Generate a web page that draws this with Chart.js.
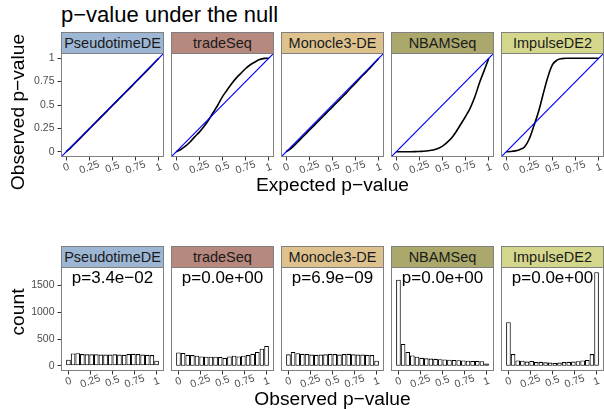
<!DOCTYPE html>
<html>
<head>
<meta charset="utf-8">
<script src="https://cdn.jsdelivr.net/npm/chart.js@4.4.1/dist/chart.umd.min.js"></script>
<style>
  body { margin: 0; background: #fff; font-family: "Liberation Sans", Arial, sans-serif; }
  #wrap { position: relative; width: 604px; height: 409px; overflow: hidden; background: #fff; }
  canvas { position: absolute; }
  .txt { position: absolute; white-space: nowrap; line-height: 1; color: #000; }
  .strip { position: absolute; box-sizing: border-box; border: 1px solid #808080; text-align: center;
           font-size: 14.5px; line-height: 20px; color: #1a1a1a; white-space: nowrap; overflow: hidden; }
</style>
</head>
<body>
<div id="wrap"></div>
<script>
// facets
const METHODS = ['PseudotimeDE', 'tradeSeq', 'Monocle3-DE', 'NBAMSeq', 'ImpulseDE2'];
const STRIP_COLORS = ['#9db6d4', '#b7887e', '#dec28e', '#aaa86a', '#d4d68c'];

// top row: QQ curves (expected vs observed p-value)
const QQ_X = [0, 0.05, 0.1, 0.15, 0.2, 0.25, 0.3, 0.35, 0.4, 0.45, 0.5, 0.55, 0.6, 0.65, 0.7, 0.75, 0.8, 0.85, 0.9, 0.95, 1];
const QQ_PSEUDOTIME = [0, 0.045, 0.094, 0.144, 0.194, 0.244, 0.294, 0.344, 0.394, 0.444, 0.494, 0.544, 0.594, 0.644, 0.694, 0.745, 0.795, 0.846, 0.897, 0.948, 1];
const QQ_TRADESEQ = [0, 0.025, 0.06, 0.105, 0.16, 0.21, 0.27, 0.34, 0.42, 0.5, 0.59, 0.66, 0.73, 0.79, 0.84, 0.89, 0.93, 0.96, 0.985, 0.998, 1];
const QQ_MONOCLE = [0, 0.035, 0.08, 0.13, 0.18, 0.23, 0.28, 0.33, 0.38, 0.43, 0.48, 0.53, 0.58, 0.63, 0.685, 0.735, 0.79, 0.84, 0.89, 0.945, 1];
const QQ_NBAMSEQ = [0, 0, 0, 0.001, 0.002, 0.004, 0.006, 0.012, 0.02, 0.035, 0.06, 0.1, 0.15, 0.22, 0.3, 0.38, 0.47, 0.59, 0.74, 0.87, 1];
const QQ_IMPULSE = [0, 0.003, 0.01, 0.025, 0.055, 0.14, 0.28, 0.43, 0.62, 0.8, 0.93, 0.98, 0.995, 1, 1, 1, 1, 1, 1, 1, 1];
const DIAG = [-0.1, 1.1];

// bottom row: histograms of observed p-values (20 bins)
const BIN_CENTERS = [0, 0.0526, 0.1053, 0.1579, 0.2105, 0.2632, 0.3158, 0.3684, 0.4211, 0.4737,
                     0.5263, 0.5789, 0.6316, 0.6842, 0.7368, 0.7895, 0.8421, 0.8947, 0.9474, 1];
const HIST_PSEUDOTIME = [115, 230, 235, 220, 215, 215, 215, 210, 210, 210, 215, 210, 205, 220, 225, 220, 210, 205, 200, 95];
const HIST_TRADESEQ = [250, 240, 205, 200, 190, 175, 170, 170, 170, 165, 150, 175, 190, 175, 190, 200, 225, 260, 320, 370];
const HIST_MONOCLE = [215, 260, 235, 225, 220, 210, 205, 210, 215, 225, 220, 210, 220, 225, 215, 210, 210, 205, 200, 95];
const HIST_NBAMSEQ = [1610, 410, 260, 195, 170, 150, 140, 135, 130, 125, 120, 115, 110, 105, 100, 95, 90, 90, 85, 45];
const HIST_IMPULSE = [815, 220, 100, 95, 80, 90, 70, 75, 65, 60, 55, 60, 70, 75, 80, 85, 100, 110, 220, 1750];
const P_LABELS = ['p=3.4e\u221202', 'p=0.0e+00', 'p=6.9e\u221209', 'p=0.0e+00', 'p=0.0e+00'];

// axis ticks
const P_TICKS = [0, 0.25, 0.5, 0.75, 1];
const P_TICK_LABELS = ['0', '0.25', '0.5', '0.75', '1'];
const COUNT_TICKS = [0, 500, 1000, 1500];
const COUNT_TICK_LABELS = ['0', '500', '1000', '1500'];

const QQ_SERIES = [QQ_PSEUDOTIME, QQ_TRADESEQ, QQ_MONOCLE, QQ_NBAMSEQ, QQ_IMPULSE];
const HIST_SERIES = [HIST_PSEUDOTIME, HIST_TRADESEQ, HIST_MONOCLE, HIST_NBAMSEQ, HIST_IMPULSE];

const wrap = document.getElementById('wrap');
const FONT = '"Liberation Sans", Arial, sans-serif';

function addText(txt, css) {
  const d = document.createElement('div');
  d.className = 'txt';
  d.textContent = txt;
  Object.assign(d.style, css);
  wrap.appendChild(d);
  return d;
}

function addCanvas(left, top, w, h) {
  const c = document.createElement('canvas');
  c.width = w; c.height = h;
  c.style.left = left + 'px'; c.style.top = top + 'px';
  c.style.width = w + 'px'; c.style.height = h + 'px';
  wrap.appendChild(c);
  return c;
}

// panel frame, rotated x tick labels and the p annotation
const panelDecor = {
  id: 'panelDecor',
  afterDraw(chart, args, opts) {
    const { ctx, chartArea: a, scales } = chart;
    ctx.save();
    ctx.strokeStyle = '#808080';
    ctx.lineWidth = 1;
    ctx.strokeRect(a.left, a.top, a.right - a.left, a.bottom - a.top);

    ctx.fillStyle = '#4d4d4d';
    ctx.font = '10.5px ' + FONT;
    ctx.textAlign = 'center';
    ctx.textBaseline = 'middle';
    scales.x.ticks.forEach((t, i) => {
      ctx.save();
      ctx.translate(scales.x.getPixelForValue(t.value), a.bottom + 11);
      ctx.rotate(-20 * Math.PI / 180);
      ctx.fillText(P_TICK_LABELS[i], 0, 0);
      ctx.restore();
    });

    if (opts.note) {
      ctx.fillStyle = '#000';
      ctx.font = '17px ' + FONT;
      ctx.textBaseline = 'alphabetic';
      ctx.fillText(opts.note, scales.x.getPixelForValue(0.5), a.top + 15.5);
    }
    ctx.restore();
  }
};

function yScale(col, min, max, ticks, labels) {
  return {
    min, max,
    afterBuildTicks: s => { s.ticks = ticks.map(v => ({ value: v })); },
    afterFit: s => { s.width = col === 0 ? 61.5 : 0.5; },
    border: { display: false },
    grid: { display: col === 0, drawOnChartArea: false, drawTicks: true, tickLength: 4, color: '#333333' },
    ticks: {
      display: col === 0, padding: 3, color: '#4d4d4d',
      font: { family: FONT, size: 10.5 },
      callback: (v, i) => labels[i]
    }
  };
}

function xScale(min, max, extra) {
  return Object.assign({
    type: 'linear', min, max,
    afterBuildTicks: s => { s.ticks = P_TICKS.map(v => ({ value: v })); },
    afterFit: s => { s.height = 30.5; },
    border: { display: false },
    grid: { drawOnChartArea: false, drawTicks: true, tickLength: 4, color: '#333333', offset: false },
    ticks: { display: false }
  }, extra || {});
}

const TOP_PANEL = 53.5, BOTTOM_PANEL = 267.5;

METHODS.forEach((name, col) => {
  const panelLeft = 61.5 + 110 * col;
  const canvasLeft = col === 0 ? 0 : 61 + 110 * col;
  const canvasW = col === 0 ? 166 : 105;

  // strips
  [TOP_PANEL, BOTTOM_PANEL].forEach(pt => {
    const s = document.createElement('div');
    s.className = 'strip';
    s.textContent = name;
    Object.assign(s.style, {
      left: (panelLeft - 0.5) + 'px', top: (pt - 21.5) + 'px',
      width: '103px', height: '22px', background: STRIP_COLORS[col]
    });
    wrap.appendChild(s);
  });

  // QQ panel
  const qq = addCanvas(canvasLeft, TOP_PANEL - 10.5, canvasW, 144);
  new Chart(qq, {
    type: 'line',
    data: {
      datasets: [
        {
          data: DIAG.map(v => ({ x: v, y: v })),
          borderColor: '#0000ff', borderWidth: 1.2, pointRadius: 0
        },
        {
          data: QQ_X.map((x, i) => ({ x, y: QQ_SERIES[col][i] })),
          borderColor: '#000000', borderWidth: 1.6, pointRadius: 0,
          cubicInterpolationMode: 'monotone'
        }
      ]
    },
    options: {
      responsive: false, animation: false, devicePixelRatio: 1,
      layout: { padding: { top: 10.5, right: 2.5, left: 0, bottom: 0 } },
      plugins: { legend: { display: false }, tooltip: { enabled: false }, panelDecor: {} },
      scales: {
        x: xScale(-0.05, 1.05),
        y: yScale(col, -0.05, 1.05, P_TICKS, P_TICK_LABELS)
      }
    },
    plugins: [panelDecor]
  });

  // histogram panel
  const hc = addCanvas(canvasLeft, BOTTOM_PANEL - 10.5, canvasW, 144);
  new Chart(hc, {
    type: 'bar',
    data: {
      datasets: [{
        data: BIN_CENTERS.map((x, i) => ({ x, y: HIST_SERIES[col][i] })),
        backgroundColor: '#ffffff', borderColor: '#000000',
        borderWidth: 1.1,
        borderSkipped: false, barPercentage: 1, categoryPercentage: 1, inflateAmount: 0
      }]
    },
    options: {
      responsive: false, animation: false, devicePixelRatio: 1,
      layout: { padding: { top: 10.5, right: 2.5, left: 0, bottom: 0 } },
      plugins: { legend: { display: false }, tooltip: { enabled: false }, panelDecor: { note: P_LABELS[col] } },
      scales: {
        x: xScale(-0.0789, 1.0789, { offset: false }),
        y: yScale(col, -87.5, 1837.5, COUNT_TICKS, COUNT_TICK_LABELS)
      }
    },
    plugins: [panelDecor]
  });
});

// titles
addText('p\u2212value under the null', { left: '61px', top: '3.9px', fontSize: '22px' });
addText('Expected p\u2212value', { left: '61.5px', width: '542px', textAlign: 'center', top: '174.8px', fontSize: '19.2px' });
addText('Observed p\u2212value', { left: '61.5px', width: '542px', textAlign: 'center', top: '388.8px', fontSize: '19.2px' });
addText('Observed p\u2212value', { left: '18.4px', top: '112px', fontSize: '19.2px', transform: 'translate(-50%, -50%) rotate(-90deg)' });
addText('count', { left: '18.4px', top: '312px', fontSize: '19.2px', transform: 'translate(-50%, -50%) rotate(-90deg)' });
</script>
</body>
</html>
